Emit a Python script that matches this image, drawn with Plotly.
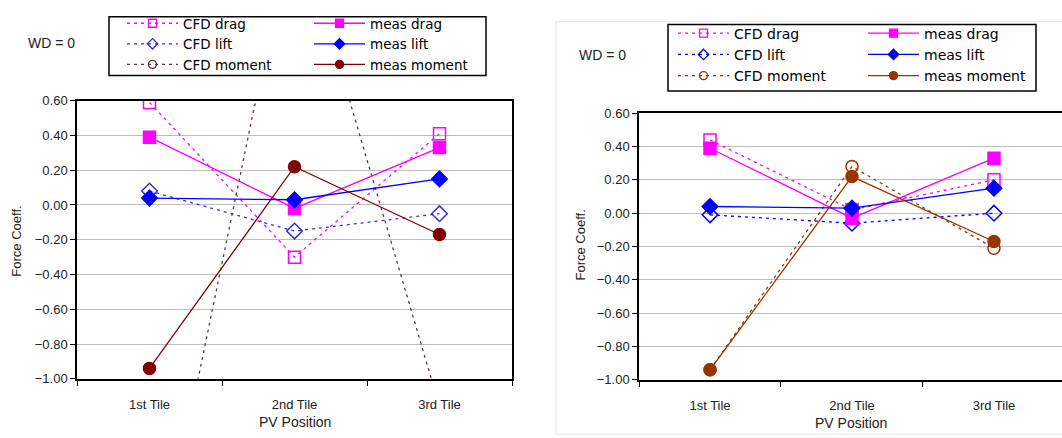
import plotly.graph_objects as go

W, H = 1062, 438

tiles = ["1st Tile", "2nd Tile", "3rd Tile"]
y_ticks = [0.6, 0.4, 0.2, 0.0, -0.2, -0.4, -0.6, -0.8, -1.0]

# Left panel
left_cfd_drag = [0.59, -0.30, 0.41]
left_meas_drag = [0.39, -0.02, 0.33]
left_cfd_lift = [0.08, -0.15, -0.05]
left_meas_lift = [0.04, 0.03, 0.15]
left_cfd_moment = [-2.35, 1.68, -1.16]
left_meas_moment = [-0.94, 0.22, -0.17]

# Right panel
right_cfd_drag = [0.44, 0.02, 0.20]
right_meas_drag = [0.39, -0.03, 0.33]
right_cfd_lift = [-0.01, -0.06, 0.00]
right_meas_lift = [0.04, 0.03, 0.15]
right_cfd_moment = [-0.94, 0.28, -0.21]
right_meas_moment = [-0.94, 0.22, -0.17]

MAGENTA = "#FF00FF"
BLUE = "#0000FF"
LEFT_MOM = "#800000"
LEFT_CFD_MOM = "#5a3a3a"
RIGHT_MOM = "#993300"
DASH = "3px,4px"

fig = go.Figure()


def add_panel(xa, ya, series, legends):
    # series: list of (name, values, color, symbol, dashed)
    for name, vals, color, symbol, dashed in series:
        fig.add_trace(go.Scatter(
            x=tiles, y=vals, xaxis=xa, yaxis=ya, mode="lines+markers",
            name=name, showlegend=False, hoverinfo="skip",
            line=dict(color=color, width=1.3, dash=DASH if dashed else "solid"),
            marker=dict(symbol=symbol, size=12, color=color,
                        line=dict(color=color, width=1.5)),
        ))
    # legend entries (two columns of three)
    for name, vals, color, symbol, dashed in series:
        col = legends[0] if dashed else legends[1]
        fig.add_trace(go.Scatter(
            x=[None], y=[None], xaxis=xa, yaxis=ya, mode="lines+markers",
            name=name, legend=col, legendgroup=f"{col}-{name}",
            line=dict(color=color, width=1.3, dash=DASH if dashed else "solid"),
            marker=dict(symbol=symbol, size=8, color=color,
                        line=dict(color=color, width=1.3)),
        ))


left_series = [
    ("CFD drag", left_cfd_drag, MAGENTA, "square-open", True),
    ("CFD lift", left_cfd_lift, "#3333CC", "diamond-open", True),
    ("CFD moment", left_cfd_moment, LEFT_CFD_MOM, "circle-open", True),
    ("meas drag", left_meas_drag, MAGENTA, "square", False),
    ("meas lift", left_meas_lift, BLUE, "diamond", False),
    ("meas moment", left_meas_moment, LEFT_MOM, "circle", False),
]
right_series = [
    ("CFD drag", right_cfd_drag, MAGENTA, "square-open", True),
    ("CFD lift", right_cfd_lift, BLUE, "diamond-open", True),
    ("CFD moment", right_cfd_moment, RIGHT_MOM, "circle-open", True),
    ("meas drag", right_meas_drag, MAGENTA, "square", False),
    ("meas lift", right_meas_lift, BLUE, "diamond", False),
    ("meas moment", right_meas_moment, RIGHT_MOM, "circle", False),
]

add_panel("x", "y", left_series, ("legend", "legend2"))
add_panel("x2", "y2", right_series, ("legend3", "legend4"))

tick_font = dict(family="Liberation Sans", size=13, color="#222222")


def xaxis_cfg(dom, rng, mirror):
    return dict(domain=dom, type="category", categoryorder="array",
                categoryarray=tiles, range=rng, tickson="boundaries",
                ticks="outside", ticklen=5, tickcolor="black",
                showline=True, linecolor="black", linewidth=1.5,
                mirror=mirror, showgrid=False, zeroline=False,
                tickfont=tick_font, ticklabelstandoff=13, fixedrange=True)


def yaxis_cfg(dom, anchor, mirror):
    return dict(domain=dom, anchor=anchor, range=[-1.0, 0.6],
                tickvals=y_ticks, tickformat=".2f", ticks="outside",
                ticklen=5, tickcolor="black", showline=True,
                linecolor="black", linewidth=1.5, mirror=mirror,
                showgrid=True, gridcolor="#BDBDBD", gridwidth=1,
                zeroline=False, tickfont=tick_font, fixedrange=True)


def legend_cfg(xpx, ypx, size, gap):
    return dict(x=xpx / W, y=1 - ypx / H, xanchor="left", yanchor="top",
                bgcolor="rgba(0,0,0,0)", borderwidth=0, itemwidth=51,
                tracegroupgap=gap, traceorder="normal",
                font=dict(family="DejaVu Sans", size=size, color="black"))


def ann(text, xpx, ypx, size, angle=0, family="Liberation Sans"):
    return dict(text=text, x=xpx / W, y=1 - ypx / H, xref="paper", yref="paper",
                showarrow=False, textangle=angle, xanchor="center", yanchor="middle",
                font=dict(family=family, size=size, color="#222222"))


fig.update_layout(
    width=W, height=H, margin=dict(l=0, r=0, t=0, b=0),
    paper_bgcolor="white", plot_bgcolor="white", showlegend=True,
    xaxis=xaxis_cfg([77 / W, 512 / W], [-0.5, 2.5], True),
    yaxis=yaxis_cfg([1 - 385 / H, 1 - 97 / H], "x", True),
    xaxis2=dict(xaxis_cfg([639 / W, 1.0], [-0.5, 2.479], True), anchor="y2"),
    yaxis2=yaxis_cfg([1 - 386 / H, 1 - 110 / H], "x2", False),
    legend=legend_cfg(122, 1, 13.5, 0),
    legend2=legend_cfg(309, 1, 13.5, 0),
    legend3=legend_cfg(673, 11, 14, 1),
    legend4=legend_cfg(863, 11, 14, 1),
    annotations=[
        ann("WD = 0", 51, 37, 14),
        ann("WD = 0", 602, 50, 14),
        ann("Force Coeff.", 17, 243, 13, -90),
        ann("Force Coeff.", 581, 247, 13, -90),
        ann("PV Position", 295, 430, 14),
        ann("PV Position", 851, 431, 14),
    ],
    shapes=[
        dict(type="rect", xref="paper", yref="paper", layer="below",
             x0=556 / W, x1=1.01, y0=-0.01, y1=1 - 15 / H,
             line=dict(color="#E6E6E6", width=1)),
        dict(type="rect", xref="paper", yref="paper",
             x0=109 / W, x1=486 / W, y0=1 - 71 / H, y1=1 - 10 / H,
             line=dict(color="black", width=1.5)),
        dict(type="rect", xref="paper", yref="paper",
             x0=668 / W, x1=1036 / W, y0=1 - 87 / H, y1=1 - 18 / H,
             line=dict(color="black", width=1.5)),
    ],
)

fig.write_html("out.html")
